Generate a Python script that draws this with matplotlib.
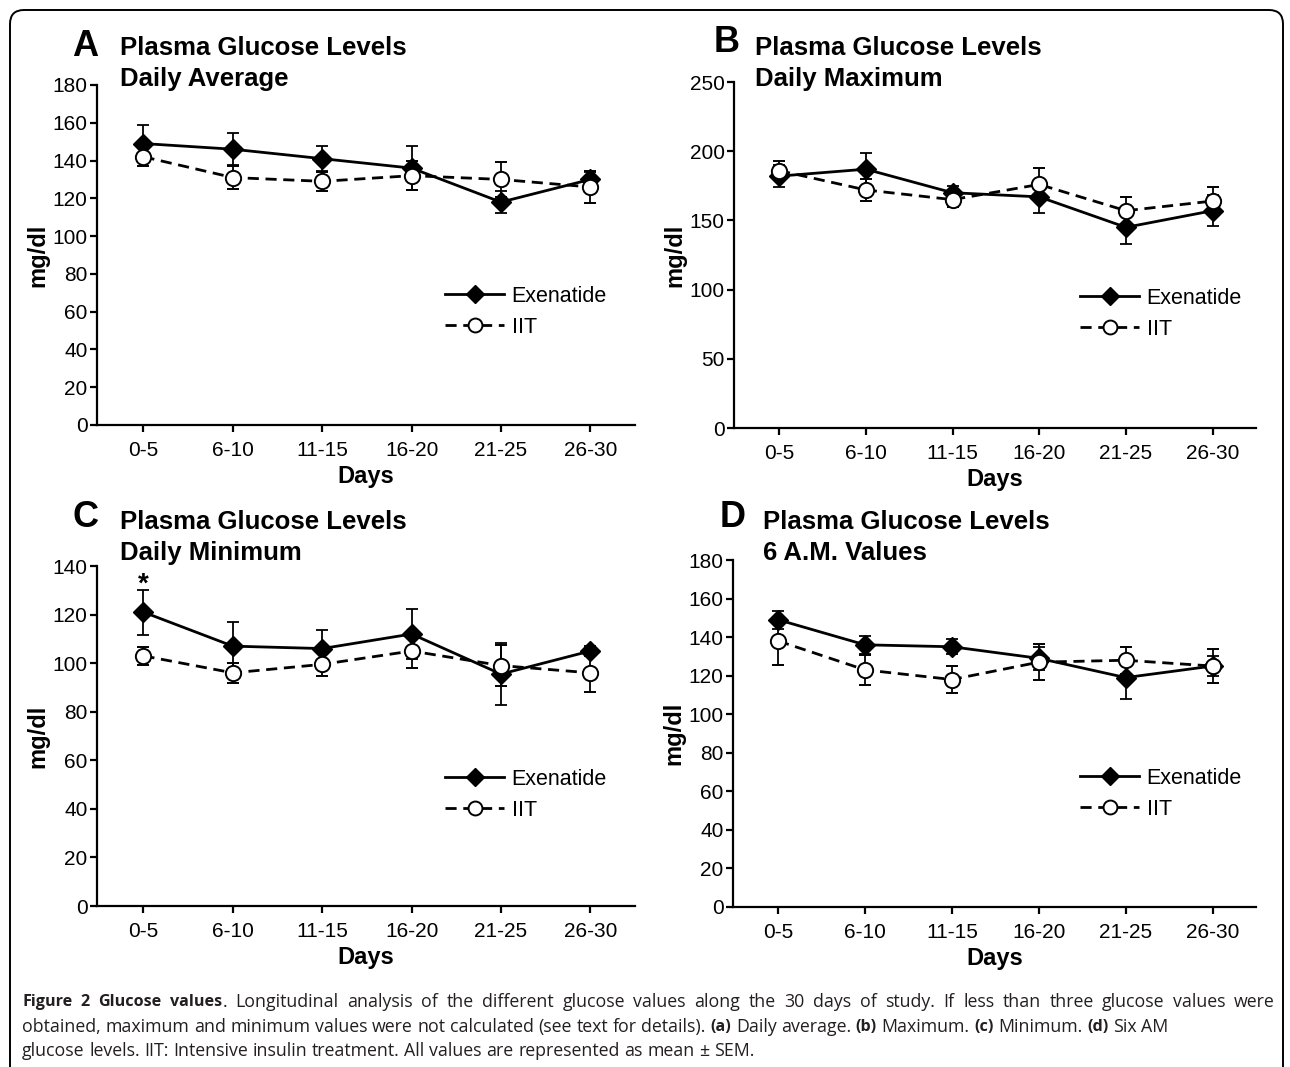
import matplotlib
matplotlib.use('Agg')
import matplotlib.pyplot as plt
from matplotlib.lines import Line2D
from matplotlib.patches import FancyBboxPatch
from matplotlib.transforms import IdentityTransform

W, H = 1290, 1067

days = ['0-5', '6-10', '11-15', '16-20', '21-25', '26-30']

# daily average
avg_exe = [149, 146, 141, 136, 118, 130]
avg_exe_sem = [10, 8.6, 6.5, 11.6, 5.8, 4.2]
avg_iit = [142, 131, 129, 132, 130, 126]
avg_iit_sem = [4.9, 6.2, 4.9, 7.8, 9.5, 8.3]

# daily maximum
max_exe = [182, 187, 170, 167, 145, 157]
max_exe_sem = [7.7, 12, 5, 11.6, 12, 11.3]
max_iit = [186, 172, 165, 176, 157, 164]
max_iit_sem = [6.7, 7.9, 5.3, 11.6, 10.1, 10.4]

# daily minimum
min_exe = [121, 107, 106, 112, 95.5, 105]
min_exe_sem = [9.3, 9.8, 7.6, 10.3, 12.6, 2.2]
min_iit = [103, 96, 99.5, 105, 99, 96]
min_iit_sem = [3.8, 4, 4.7, 6.9, 8.5, 8]

# 6 AM values
am6_exe = [149, 136, 135, 129, 119, 125]
am6_exe_sem = [4.7, 4.8, 4, 6, 11.2, 5]
am6_iit = [138, 123, 118, 127, 128, 125]
am6_iit_sem = [12.4, 7.9, 7.1, 9.5, 7.1, 9]

plt.rcParams['font.family'] = ['Liberation Sans', 'DejaVu Sans']

fig = plt.figure(figsize=(W / 100, H / 100), dpi=100)


def add_axes_px(left, right, top, bottom):
    return fig.add_axes([left / W, 1 - bottom / H, (right - left) / W, (bottom - top) / H])


def fig_text(x, y, s, **kw):
    return fig.text(x / W, 1 - y / H, s, **kw)


# letter, subtitle, axes box (l, r, top, bottom), ymax, ystep, data, letter xy, title x, title y, legend xy
panels = [
    ('A', 'Daily Average', (97, 635, 85, 425), 180, 20,
     (avg_exe, avg_exe_sem, avg_iit, avg_iit_sem), (85, 46), 120, 48, (445, 286)),
    ('B', 'Daily Maximum', (734, 1256, 82, 428), 250, 50,
     (max_exe, max_exe_sem, max_iit, max_iit_sem), (727, 43), 755, 48, (1080, 288)),
    ('C', 'Daily Minimum', (97, 635, 566, 906), 140, 20,
     (min_exe, min_exe_sem, min_iit, min_iit_sem), (85, 518), 120, 522, (445, 769)),
    ('D', '6 A.M. Values', (733, 1256, 560, 907), 180, 20,
     (am6_exe, am6_exe_sem, am6_iit, am6_iit_sem), (733, 517), 763, 522, (1080, 768)),
]

x = list(range(len(days)))

for letter, sub, box, ymax, ystep, (exe, exe_sem, iit, iit_sem), lxy, tx, ty, legxy in panels:
    ax = add_axes_px(*box)
    ax.errorbar(x, exe, yerr=exe_sem, color='black', lw=2, marker='D', ms=10,
                elinewidth=1.3, capsize=4, capthick=1.3, zorder=3)
    ax.errorbar(x, iit, yerr=iit_sem, color='black', lw=2, ls=(0, (4, 2.4)), marker='o',
                ms=11, mfc='white', mec='black', mew=1.4,
                elinewidth=1.3, capsize=4, capthick=1.3, zorder=4)
    ax.set_xlim(-0.52, 5.5)
    ax.set_ylim(0, ymax)
    ax.set_yticks(range(0, ymax + 1, ystep))
    ax.set_xticks(x)
    ax.set_xticklabels(days)
    for side in ('top', 'right'):
        ax.spines[side].set_visible(False)
    for side in ('left', 'bottom'):
        ax.spines[side].set_linewidth(1.6)
    ax.tick_params(direction='out', length=4.8, width=1.6, labelsize=15)
    ax.tick_params(axis='x', pad=7)
    ax.tick_params(axis='y', pad=2)
    ax.set_xlabel('Days', fontsize=17, fontweight='bold', labelpad=3)
    ax.set_ylabel('mg/dl', fontsize=17, fontweight='bold', labelpad=2.5)

    handles = [Line2D([], [], color='black', lw=2, marker='D', ms=9),
               Line2D([], [], color='black', lw=2, ls=(0, (4, 2.4)), marker='o', ms=10,
                      mfc='white', mew=1.4)]
    ax.legend(handles, ['Exenatide', 'IIT'], loc='upper left',
              bbox_to_anchor=(legxy[0] / W, 1 - legxy[1] / H), bbox_transform=fig.transFigure,
              frameon=False, borderpad=0, borderaxespad=0, handlelength=2.75,
              handletextpad=0.35, labelspacing=0.45, fontsize=15.5)

    if letter == 'C':
        # significance mark above the first Exenatide point
        ax.text(0, 129.5, '*', ha='center', va='baseline', fontsize=20, fontweight='bold')

    fig_text(lxy[0], lxy[1], letter, fontsize=26, fontweight='bold', ha='center', va='center')
    fig_text(tx, ty, 'Plasma Glucose Levels', fontsize=18.5, fontweight='bold', va='center')
    fig_text(tx, ty + 31, sub, fontsize=18.5, fontweight='bold', va='center')

# caption
caption_lines = [
    [('Figure 2 Glucose values', True),
     ('. Longitudinal analysis of the different glucose values along the 30 days of study. '
      'If less than three glucose values were', False)],
    [('obtained, maximum and minimum values were not calculated (see text for details). ', False),
     ('(a)', True), (' Daily average. ', False), ('(b)', True), (' Maximum. ', False),
     ('(c)', True), (' Minimum. ', False), ('(d)', True), (' Six AM', False)],
    [('glucose levels. IIT: Intensive insulin treatment. All values are represented as mean \u00b1 SEM.', False)],
]
caption_y = [1002, 1027, 1051]
caption_justify = [True, False, False]
cap_left, cap_right = 22, 1275

renderer = fig.canvas.get_renderer()
cap_regular = dict(fontsize=12.8, family=['Open Sans', 'DejaVu Sans'], color='#231f20')
cap_bold = dict(fontsize=11.6, family=['Open Sans', 'DejaVu Sans'],
                fontweight='bold', color='#231f20')


def text_width(s, style):
    t = fig.text(0, 0, s, **style)
    w = t.get_window_extent(renderer).width
    t.remove()
    return w


space_w = text_width('x x', cap_regular) - text_width('xx', cap_regular)

for runs, y, justify in zip(caption_lines, caption_y, caption_justify):
    # split into words, remembering whether a space comes before each
    words = []
    gap = False
    for s, bold in runs:
        for k, w in enumerate(s.split(' ')):
            if k > 0:
                gap = True
            if w:
                words.append((w, bold, gap))
                gap = False
    widths = [text_width(w, cap_bold if b else cap_regular) for w, b, _ in words]
    n_gaps = sum(1 for _, _, g in words if g)
    natural = sum(widths) + n_gaps * space_w
    extra = (cap_right - cap_left - natural) / n_gaps if justify else 0
    xpos = cap_left
    for (w, b, g), wd in zip(words, widths):
        if g:
            xpos += space_w + extra
        fig_text(xpos, y, w, va='center', **(cap_bold if b else cap_regular))
        xpos += wd

# rounded frame around the figure
frame = FancyBboxPatch((10, -30), 1273, H - 10 + 30, boxstyle='round,pad=0,rounding_size=14',
                       transform=IdentityTransform(), fill=False, lw=1.4, ec='black')
fig.patches.append(frame)

fig.savefig('out.png', dpi=100)
